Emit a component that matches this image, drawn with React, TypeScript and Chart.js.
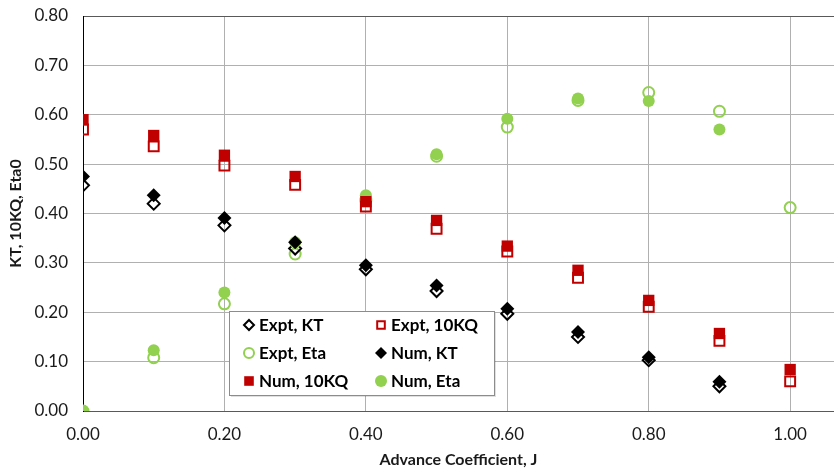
import React, { useEffect, useRef } from "react";
import { Chart, registerables } from "chart.js";

Chart.register(...registerables);

const jValues = [0, 0.1, 0.2, 0.3, 0.4, 0.5, 0.6, 0.7, 0.8, 0.9, 1.0];
const exptKT = [0.457, 0.42, 0.376, 0.329, 0.287, 0.243, 0.197, 0.15, 0.103, 0.05];
const numKT = [0.475, 0.437, 0.391, 0.342, 0.295, 0.254, 0.207, 0.16, 0.109, 0.059];
const expt10KQ = [0.57, 0.536, 0.497, 0.458, 0.414, 0.369, 0.323, 0.27, 0.211, 0.142, 0.06];
const num10KQ = [0.59, 0.558, 0.518, 0.475, 0.424, 0.386, 0.334, 0.285, 0.224, 0.157, 0.084];
const exptEta = [0, 0.108, 0.217, 0.318, 0.427, 0.516, 0.575, 0.629, 0.645, 0.607, 0.412];
const numEta = [0, 0.123, 0.24, 0.342, 0.437, 0.52, 0.592, 0.633, 0.628, 0.57];

const xTickLabels = ["0.00", "0.20", "0.40", "0.60", "0.80", "1.00"];
const yTickLabels = ["0.00", "0.10", "0.20", "0.30", "0.40", "0.50", "0.60", "0.70", "0.80"];

const RED = "#C00000";
const GREEN = "#92D050";
const BLACK = "#000000";
const FONT = "Lato, 'Open Sans', sans-serif";

const toPoints = (vals: number[]) => vals.map((v, i) => ({ x: jValues[i], y: v }));

type Item = { label: string; style: string; color: string; filled: boolean };
const legendItems: Item[] = [
  { label: "Expt, KT", style: "diamond", color: BLACK, filled: false },
  { label: "Expt, 10KQ", style: "square", color: RED, filled: false },
  { label: "Expt, Eta", style: "circle", color: GREEN, filled: false },
  { label: "Num, KT", style: "diamond", color: BLACK, filled: true },
  { label: "Num, 10KQ", style: "square", color: RED, filled: true },
  { label: "Num, Eta", style: "circle", color: GREEN, filled: true },
];

function drawMarker(ctx: CanvasRenderingContext2D, it: Item, x: number, y: number, r: number) {
  ctx.save();
  ctx.beginPath();
  if (it.style === "circle") {
    ctx.arc(x, y, it.filled ? r : r - 1, 0, Math.PI * 2);
  } else if (it.style === "square") {
    const s = it.filled ? r * 0.8 : r * 0.8 - 1;
    ctx.rect(x - s, y - s, 2 * s, 2 * s);
  } else {
    const s = it.filled ? r : r - 1;
    ctx.moveTo(x, y - s);
    ctx.lineTo(x + s, y);
    ctx.lineTo(x, y + s);
    ctx.lineTo(x - s, y);
    ctx.closePath();
  }
  if (it.filled) {
    ctx.fillStyle = it.color;
    ctx.fill();
  } else {
    ctx.strokeStyle = it.color;
    ctx.lineWidth = 2;
    ctx.stroke();
  }
  ctx.restore();
}

const stretchPlugin = {
  id: "stretchRight",
  afterLayout(chart: any) {
    const ca = chart.chartArea;
    ca.right = chart.width;
    ca.width = ca.right - ca.left;
    const xs = chart.scales.x;
    xs.right = chart.width;
    xs.width = xs.right - xs.left;
    xs.configure();
  },
};

const legendPlugin = {
  id: "insetLegend",
  afterDraw(chart: any) {
    const ctx: CanvasRenderingContext2D = chart.ctx;
    const left = 229, top = 311, w = 265, h = 84;
    ctx.save();
    ctx.fillStyle = "rgba(0,0,0,0.12)";
    ctx.fillRect(left + 2, top + 2, w, h);
    ctx.fillStyle = "#ffffff";
    ctx.fillRect(left, top, w, h);
    ctx.strokeStyle = "#8c8c8c";
    ctx.lineWidth = 1;
    ctx.strokeRect(left + 0.5, top + 0.5, w, h);
    ctx.font = `bold 17px ${FONT}`;
    ctx.fillStyle = "#000";
    ctx.textBaseline = "middle";
    const rowsY = [325, 353, 381];
    const colsX = [249, 381];
    legendItems.forEach((it, i) => {
      const row = Math.floor(i / 2);
      const col = i % 2;
      const mx = colsX[col];
      const my = rowsY[row];
      drawMarker(ctx, it, mx, my, 6);
      ctx.fillText(it.label, mx + 10, my + 1);
    });
    ctx.restore();
  },
};

export default function App() {
  const canvasRef = useRef<HTMLCanvasElement | null>(null);
  useEffect(() => {
    if (!canvasRef.current) return;
    const openPt = (color: string) => ({
      pointBackgroundColor: "rgba(0,0,0,0)",
      pointBorderColor: color,
      pointBorderWidth: 2,
      backgroundColor: "rgba(0,0,0,0)",
      borderColor: color,
    });
    const fillPt = (color: string) => ({
      pointBackgroundColor: color,
      pointBorderColor: color,
      pointBorderWidth: 0,
      backgroundColor: color,
      borderColor: color,
    });
    const chart = new Chart(canvasRef.current, {
      type: "scatter",
      data: {
        datasets: [
          { label: "Expt, KT", data: toPoints(exptKT), pointStyle: "rectRot", pointRadius: 6, order: 2, ...openPt(BLACK) },
          { label: "Expt, 10KQ", data: toPoints(expt10KQ), pointStyle: "rect", pointRadius: 7, order: 2, ...openPt(RED) },
          { label: "Expt, Eta", data: toPoints(exptEta), pointStyle: "circle", pointRadius: 5.5, order: 2, ...openPt(GREEN) },
          { label: "Num, KT", data: toPoints(numKT), pointStyle: "rectRot", pointRadius: 7, order: 1, ...fillPt(BLACK) },
          { label: "Num, 10KQ", data: toPoints(num10KQ), pointStyle: "rect", pointRadius: 8, order: 1, ...fillPt(RED) },
          { label: "Num, Eta", data: toPoints(numEta), pointStyle: "circle", pointRadius: 6, order: 1, ...fillPt(GREEN) },
        ] as any,
      },
      options: {
        animation: false,
        responsive: false,
        maintainAspectRatio: false,
        devicePixelRatio: 1,
        layout: { padding: { top: 16, right: 0, left: 0, bottom: 0 } },
        plugins: { legend: { display: false }, tooltip: { enabled: false } },
        scales: {
          x: {
            type: "linear",
            min: 0,
            max: 1.062,
            afterBuildTicks: (scale: any) => {
              scale.ticks = xTickLabels.map((t) => ({ value: parseFloat(t) }));
            },
            afterFit: (scale: any) => {
              scale.height = 60;
              scale.paddingLeft = 0;
              scale.paddingRight = 0;
            },
            ticks: {
              padding: 13,
              color: "#1a1a1a",
              font: { family: FONT, size: 17 },
              callback: (v: any) => Number(v).toFixed(2),
            },
            grid: { color: "#b0b0b0", lineWidth: 1, drawTicks: false },
            border: { display: true, color: "#595959", width: 1 },
            title: {
              display: true,
              text: "Advance Coefficient, J",
              color: "#1a1a1a",
              font: { family: FONT, size: 16, weight: "bold" },
              padding: { top: 2, bottom: 2 },
            },
          },
          y: {
            type: "linear",
            min: 0,
            max: 0.8,
            afterBuildTicks: (scale: any) => {
              scale.ticks = yTickLabels.map((t) => ({ value: parseFloat(t) }));
            },
            afterFit: (scale: any) => {
              scale.width = 83;
              scale.paddingTop = 0;
              scale.paddingBottom = 0;
            },
            ticks: {
              padding: 15,
              color: "#1a1a1a",
              font: { family: FONT, size: 17 },
              callback: (v: any) => Number(v).toFixed(2),
            },
            grid: {
              color: (c: any) => (c.tick && Math.abs(c.tick.value - 0.8) < 1e-6 ? "#595959" : "#b0b0b0"),
              lineWidth: 1,
              drawTicks: false,
            },
            border: { display: true, color: "#000000", width: 1 },
            title: {
              display: true,
              text: "KT, 10KQ, Eta0",
              color: "#1a1a1a",
              font: { family: FONT, size: 16, weight: "bold" },
              padding: { top: 6, bottom: 2 },
            },
          },
        },
      },
      plugins: [stretchPlugin, legendPlugin],
    });
    return () => chart.destroy();
  }, []);
  return (
    <div style={{ position: "absolute", left: 0, top: 0, width: 834, height: 471, background: "#fff" }}>
      <canvas ref={canvasRef} width={834} height={471} style={{ display: "block", width: 834, height: 471 }} />
    </div>
  );
}
